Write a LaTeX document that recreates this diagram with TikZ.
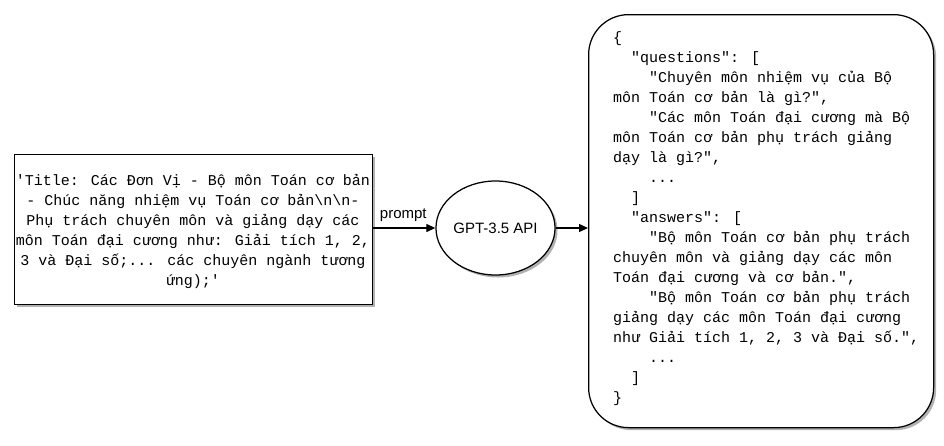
\documentclass[tikz,border=0pt]{standalone}
\usepackage{fontspec}
\setmainfont{Liberation Sans}
\newfontfamily\codefont[WordSpace={1,0,0}]{Liberation Mono}
\usetikzlibrary{shapes.geometric,shadows,arrows.meta}
\tikzset{
  shad/.style={drop shadow={shadow xshift=2.5pt,shadow yshift=-2.5pt,fill=black,opacity=0.3}},
  codebox/.style={draw=black,line width=1.25pt,fill=white,shad},
  conn/.style={line width=1.25pt,-{Triangle[length=9pt,width=8pt]}},
  mono/.style={font=\codefont\fontsize{15pt}{20pt}\selectfont},
}
\newcommand{\ind}[1]{\hspace*{#1}}
\begin{document}
\begin{tikzpicture}[x=1pt,y=-1pt]
\useasboundingbox (0,0) rectangle (944,445);
% left box
\node[codebox,minimum width=358pt,minimum height=150pt,anchor=north west,inner sep=0pt] (src) at (14,154) {};
\node[mono,align=center,inner sep=0pt] (srctext) at (193,231.5)
{'Title: Các Đơn Vị - Bộ môn Toán cơ bản\\
- Chúc năng nhiệm vụ Toán cơ bản\textbackslash n\textbackslash n-\\
Phụ trách chuyên môn và giảng dạy các\\
môn Toán đại cương như: Giải tích 1, 2,\\
3 và Đại số;... các chuyên ngành tương\\
ứng);'};
% ellipse
\node[ellipse,draw=black,line width=1.25pt,fill=white,shad,minimum width=109pt,minimum height=94pt,inner sep=0pt,font=\fontsize{15pt}{18pt}\selectfont] (api) at (495.5,228) {GPT-3.5 API};
% right box
\node[codebox,rounded corners=40pt,minimum width=345pt,minimum height=413pt,anchor=north west,inner sep=0pt] (out) at (588,14) {};
\node[mono,align=left,anchor=north west,inner sep=0pt] (outtext) at (613,31)
{\{\\
\ind{18pt}"questions": [\\
\ind{36pt}"Chuyên môn nhiệm vụ của Bộ\\
môn Toán cơ bản là gì?",\\
\ind{36pt}"Các môn Toán đại cương mà Bộ\\
môn Toán cơ bản phụ trách giảng\\
dạy là gì?",\\
\ind{36pt}...\\
\ind{18pt}]\\
\ind{18pt}"answers": [\\
\ind{36pt}"Bộ môn Toán cơ bản phụ trách\\
chuyên môn và giảng dạy các môn\\
Toán đại cương và cơ bản.",\\
\ind{36pt}"Bộ môn Toán cơ bản phụ trách\\
giảng dạy các môn Toán đại cương\\
như Giải tích 1, 2, 3 và Đại số.",\\
\ind{36pt}...\\
\ind{18pt}]\\
\}};
% connectors
\draw[conn] (src.east |- api.west) -- node[above,font=\fontsize{15pt}{18pt}\selectfont,inner sep=6pt,xshift=-1pt] (lbl) {prompt} (api.west);
\draw[conn] (api.east) -- (out.west |- api.east);
\end{tikzpicture}
\end{document}
